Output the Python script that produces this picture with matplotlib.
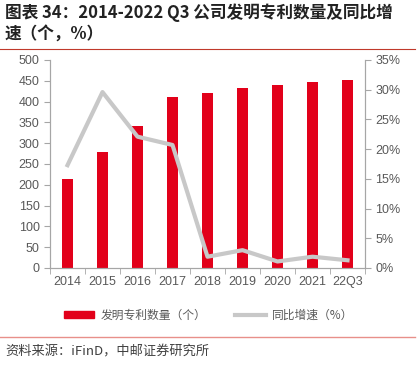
import matplotlib.pyplot as plt
from matplotlib.lines import Line2D
from matplotlib.patches import Patch

plt.rcParams["font.family"] = ["Noto Sans CJK SC", "DejaVu Sans"]

years = ["2014", "2015", "2016", "2017", "2018", "2019", "2020", "2021", "22Q3"]
patents = [215, 279, 342, 412, 420, 433, 439, 447, 451]
growth = [17.3, 29.6, 22.1, 20.7, 1.9, 3.0, 1.1, 1.9, 1.3]

red = "#e2001a"
gray_line = "#c8c8c8"
tick_color = "#595959"
axis_color = "#a6a6a6"
num_font = ["Liberation Sans", "DejaVu Sans"]

fig = plt.figure(figsize=(4.17, 3.68), dpi=100)
ax = fig.add_axes([50 / 417, 1 - 268 / 368, 315 / 417, 208 / 368])
ax2 = ax.twinx()

x = range(len(years))
ax.bar(x, patents, width=0.32, color=red, zorder=2)
ax2.plot(x, growth, color=gray_line, linewidth=3, zorder=3)

ax.set_xlim(-0.5, len(years) - 0.5)
ax.set_ylim(0, 500)
ax.set_yticks(range(0, 501, 50))
ax2.set_ylim(0, 35)
ax2.set_yticks(range(0, 36, 5))
ax2.set_yticklabels([f"{v}%" for v in range(0, 36, 5)])

ax.set_xticks(list(x))
ax.set_xticklabels(years)
ax.set_xticks([i + 0.5 for i in range(-1, len(years))], minor=True)
ax.tick_params(axis="x", which="major", length=0, pad=6)
ax.tick_params(axis="x", which="minor", length=4, color=axis_color)

for a in (ax, ax2):
    a.tick_params(axis="y", length=4, color=axis_color, labelcolor=tick_color, labelsize=9)
    a.tick_params(axis="x", labelcolor=tick_color, labelsize=9)
    for lab in a.get_xticklabels() + a.get_yticklabels():
        lab.set_family(num_font)
    a.spines["top"].set_visible(False)
    for s in ("left", "right", "bottom"):
        a.spines[s].set_color(axis_color)

ax.set_zorder(ax2.get_zorder() - 1)
ax.patch.set_visible(False)

handles = [
    Patch(color=red, label="发明专利数量（个）"),
    Line2D([], [], color=gray_line, linewidth=3, label="同比增速（%）"),
]
fig.legend(
    handles=handles,
    loc="center",
    bbox_to_anchor=(0.5, 1 - 315 / 368),
    ncol=2,
    frameon=False,
    fontsize=8.5,
    handlelength=2.6,
    handleheight=0.5,
    handletextpad=0.5,
    columnspacing=2.5,
    labelcolor=tick_color,
)

fig.text(5 / 417, 1 - 13 / 368, "图表 34：2014-2022 Q3 公司发明专利数量及同比增",
         fontsize=12, fontweight="bold", va="center", ha="left", color="#222222")
fig.text(5 / 417, 1 - 34 / 368, "速（个，%）",
         fontsize=12, fontweight="bold", va="center", ha="left", color="#222222")
fig.add_artist(Line2D([0.0, 0.995], [1 - 49 / 368] * 2, color="#c0392b", linewidth=0.8))
fig.add_artist(Line2D([0.0, 0.995], [1 - 337 / 368] * 2, color="#e8908a", linewidth=1.0))
fig.text(5 / 417, 1 - 352 / 368, "资料来源：iFinD，中邮证券研究所",
         fontsize=9.5, va="center", ha="left", color="#404040")

fig.savefig("out.png", dpi=100)
